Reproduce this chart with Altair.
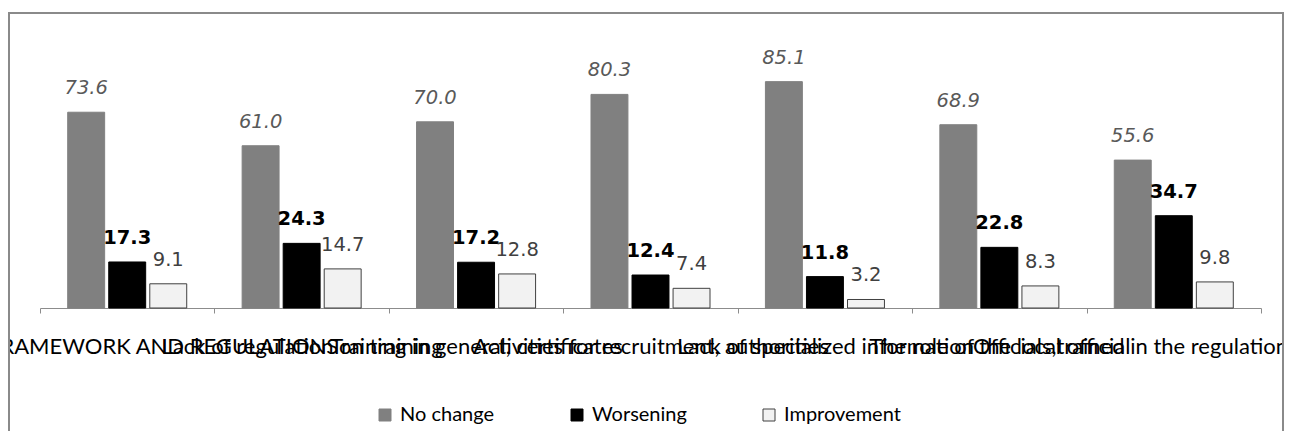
import altair as alt
import pandas as pd

categories = [
    "LEGAL FRAMEWORK AND REGULATIONS",
    "Lack of regulation on training",
    "Training in general, certificates",
    "Activities for recruitment, authorities",
    "Lack of specialized information",
    "The role of the local official",
    "Officials,trained in the regulations in force",
]
series = ["No change", "Worsening", "Improvement"]
no_change = [73.6, 61.0, 70.0, 80.3, 85.1, 68.9, 55.6]
worsening = [17.3, 24.3, 17.2, 12.4, 11.8, 22.8, 34.7]
improvement = [9.1, 14.7, 12.8, 7.4, 3.2, 8.3, 9.8]

rows = []
for s, vals in zip(series, [no_change, worsening, improvement]):
    for c, v in zip(categories, vals):
        rows.append({"category": c, "series": s, "value": v})
df = pd.DataFrame(rows)

W, H = 1221, 266

x_enc = alt.X(
    "category:N",
    sort=categories,
    title=None,
    scale=alt.Scale(paddingInner=0, paddingOuter=0),
    axis=alt.Axis(
        labelAngle=0,
        labelLimit=0,
        labelOverlap=False,
        labelFont="Lato",
        labelFontSize=22,
        labelColor="#000000",
        labelPadding=23,
        tickBand="extent",
        tickSize=5,
        tickColor="#8c8c8c",
        domainColor="#8c8c8c",
        domainWidth=1,
        grid=False,
    ),
)
xo_enc = alt.XOffset(
    "series:N",
    sort=series,
    scale=alt.Scale(domain=series, paddingInner=0.1, paddingOuter=0.675),
)
y_enc = alt.Y("value:Q", scale=alt.Scale(domain=[0, 100]), axis=None)

base = alt.Chart(df)

bars = base.mark_bar(strokeWidth=1).encode(
    x=x_enc,
    xOffset=xo_enc,
    y=y_enc,
    fill=alt.Fill(
        "series:N",
        sort=series,
        scale=alt.Scale(domain=series, range=["#808080", "#000000", "#f2f2f2"]),
        legend=alt.Legend(
            title=None,
            orient="none",
            legendX=335,
            legendY=363,
            direction="horizontal",
            symbolType="square",
            symbolSize=144,
            symbolStrokeColor="#404040",
            symbolStrokeWidth=1,
            labelFont="Lato",
            labelFontSize=20,
            labelColor="#000000",
            labelOffset=5,
            columnPadding=50,
            gridAlign="all",
            padding=0,
        ),
    ),
    stroke=alt.Stroke(
        "series:N",
        sort=series,
        scale=alt.Scale(domain=series, range=["#808080", "#000000", "#404040"]),
        legend=None,
    ),
)

def label_layer(name, color, weight, style):
    return base.transform_filter(alt.datum.series == name).mark_text(
        font="DejaVu Sans",
        fontSize=19.5,
        fontWeight=weight,
        fontStyle=style,
        color=color,
        baseline="alphabetic",
        dy=-18,
    ).encode(
        x=x_enc,
        xOffset=xo_enc,
        y=y_enc,
        text=alt.Text("value:Q", format=".1f"),
    )

t1 = label_layer("No change", "#595959", "normal", "italic")
t2 = label_layer("Worsening", "#000000", "bold", "normal")
t3 = label_layer("Improvement", "#404040", "normal", "normal")

frame = alt.Chart(pd.DataFrame({"a": [0]})).mark_rect(
    fill=None, stroke="#8a8a8a", strokeWidth=2
).encode(
    x=alt.value(-31), x2=alt.value(1243), y=alt.value(-29), y2=alt.value(420)
)

chart = alt.layer(frame, bars, t1, t2, t3).properties(
    width=W,
    height=H,
    autosize=alt.AutoSizeParams(type="none"),
    padding={"left": 32, "top": 34, "right": 23, "bottom": 123},
    background="white",
).configure_view(stroke=None)

chart.save("out.html", embed_options={"renderer": "svg", "actions": False})
